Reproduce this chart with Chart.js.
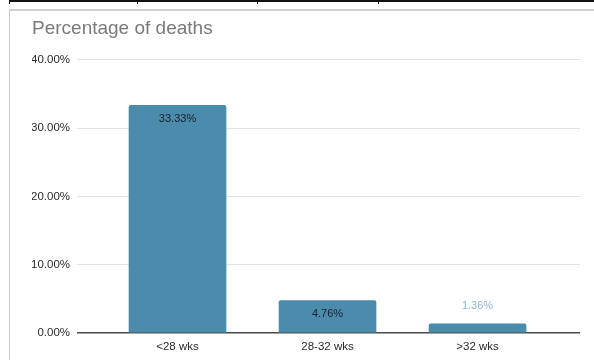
<!DOCTYPE html>
<html>
<head>
<meta charset="utf-8">
<script src="https://cdn.jsdelivr.net/npm/chart.js@4/dist/chart.umd.min.js"></script>
<style>
  html, body { margin: 0; padding: 0; background: #fff; }
  #wrap { position: relative; width: 594px; height: 360px; overflow: hidden; background: #fff; }
  #chart { position: absolute; left: 0; top: 0; }
  .rule { position: absolute; background: #111; }
  #frame { position: absolute; left: 9px; top: 9px; width: 600px; height: 400px;
           border-top: 2px solid #cfcfcf; border-left: 1px solid #c9c9c9; }
</style>
</head>
<body>
<div id="wrap">
  <div class="rule" style="left:9px;top:0;width:585px;height:2px"></div>
  <div class="rule" style="left:9px;top:0;width:1px;height:4px"></div>
  <div class="rule" style="left:137px;top:0;width:1px;height:4px"></div>
  <div class="rule" style="left:257px;top:0;width:1px;height:4px"></div>
  <div class="rule" style="left:378px;top:0;width:1px;height:4px"></div>
  <div id="frame"></div>
  <canvas id="chart" width="594" height="360"></canvas>
</div>
<script>
// Gestational age groups and the share of deaths in each
const categories = ['<28 wks', '28-32 wks', '>32 wks'];
const deathShare = [33.33, 4.76, 1.36];
const yTickValues = [0, 10, 20, 30, 40];

const FONT = '"Liberation Sans", Arial, sans-serif';
const BAR_COLOR = '#4b8bac';

// Value labels: inside the bar top when it fits, otherwise above it
const valueLabels = {
  id: 'valueLabels',
  afterDatasetsDraw(chart) {
    const ctx = chart.ctx;
    const meta = chart.getDatasetMeta(0);
    ctx.save();
    ctx.font = '11px ' + FONT;
    ctx.textAlign = 'center';
    ctx.textBaseline = 'middle';
    meta.data.forEach((bar, i) => {
      const v = deathShare[i];
      const text = v.toFixed(2) + '%';
      const h = bar.base - bar.y;
      if (h > 24) {
        ctx.fillStyle = '#16222c';
        ctx.fillText(text, bar.x, bar.y + 13.5);
      } else {
        ctx.fillStyle = '#8db7d6';
        ctx.fillText(text, bar.x, bar.y - 17.5);
      }
    });
    ctx.restore();
  }
};

new Chart(document.getElementById('chart'), {
  type: 'bar',
  data: {
    datasets: [{
      data: deathShare.map((v, i) => ({ x: i, y: v })),
      backgroundColor: BAR_COLOR,
      borderWidth: 0,
      borderRadius: { topLeft: 2, topRight: 2 },
      borderSkipped: 'bottom',
      barThickness: 97
    }]
  },
  options: {
    responsive: false,
    animation: false,
    devicePixelRatio: 1,
    layout: { padding: { left: 32, right: 14, top: 0, bottom: 0 } },
    plugins: {
      legend: { display: false },
      tooltip: { enabled: false },
      title: {
        display: true,
        text: 'Percentage of deaths',
        align: 'start',
        color: '#7a7a7a',
        font: { family: FONT, size: 19, weight: 'normal' },
        padding: { top: 17, bottom: 20 }
      }
    },
    scales: {
      x: {
        type: 'linear',
        offset: false,
        min: -0.67,
        max: 2.683,
        afterBuildTicks(scale) {
          scale.ticks = categories.map((_, i) => ({ value: i }));
        },
        afterFit(scale) { scale.height = 27; },
        grid: { display: false, drawTicks: false, offset: false },
        border: { display: false },
        ticks: {
          autoSkip: false,
          maxRotation: 0,
          padding: 7,
          color: '#2a2a2a',
          font: { family: FONT, size: 11.5 },
          callback: (v) => categories[v]
        }
      },
      y: {
        min: 0,
        max: 40,
        afterBuildTicks(scale) {
          scale.ticks = yTickValues.map(v => ({ value: v }));
        },
        afterFit(scale) { scale.width = 45; },
        grid: {
          drawTicks: false,
          color: (c) => c.tick && c.tick.value === 0 ? '#4a4a4a' : '#e2e2e2',
          lineWidth: (c) => c.tick && c.tick.value === 0 ? 1.5 : 1
        },
        border: { display: false },
        ticks: {
          padding: 7,
          color: '#2a2a2a',
          font: { family: FONT, size: 11.5 },
          callback: (v) => v.toFixed(2) + '%'
        }
      }
    }
  },
  plugins: [valueLabels]
});
</script>
</body>
</html>
